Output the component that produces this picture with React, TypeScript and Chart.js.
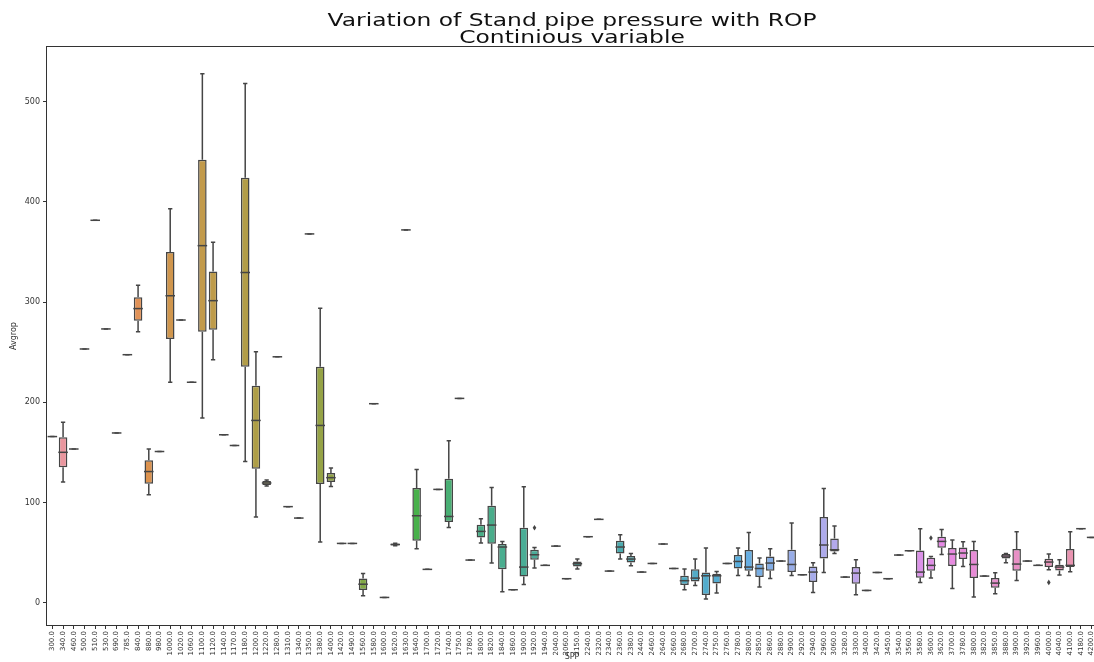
import React, { useEffect, useRef } from "react";
import { Chart, registerables } from "chart.js";

Chart.register(...registerables);

const sppLabels = [
  "300.0","340.0","460.0","500.0","510.0","530.0","690.0","785.0","840.0","880.0",
  "980.0","1000.0","1020.0","1060.0","1100.0","1120.0","1140.0","1170.0","1180.0","1200.0",
  "1220.0","1280.0","1310.0","1340.0","1350.0","1380.0","1400.0","1420.0","1490.0","1560.0",
  "1580.0","1600.0","1620.0","1630.0","1640.0","1700.0","1720.0","1740.0","1750.0","1780.0",
  "1800.0","1820.0","1840.0","1860.0","1900.0","1920.0","1940.0","2040.0","2060.0","2150.0",
  "2240.0","2320.0","2340.0","2360.0","2380.0","2440.0","2460.0","2640.0","2660.0","2680.0",
  "2700.0","2740.0","2750.0","2760.0","2780.0","2800.0","2850.0","2860.0","2880.0","2900.0",
  "2920.0","2940.0","2960.0","3060.0","3280.0","3300.0","3400.0","3420.0","3450.0","3540.0",
  "3560.0","3580.0","3600.0","3620.0","3700.0","3780.0","3800.0","3820.0","3850.0","3880.0",
  "3900.0","3920.0","3960.0","4000.0","4040.0","4100.0","4180.0","4200.0",
];

const whiskerLow = [
  165.8, 120.5, 153.4, 253.2, 381.6, 273.2, 169.4, 247.5, 270.3, 107.7,
  150.9, 220, 282.1, 220, 184.4, 242.5, 167.6, 156.9, 140.9, 85.6,
  116.5, 245.4, 95.9, 84.5, 368, 60.6, 115.9, 59.2, 59.2, 7.1,
  198.6, 5.3, 56.8, 372, 53.9, 33.3, 113.1, 75.2, 203.9, 42.6,
  59.6, 39.6, 11, 13, 18.3, 34.6, 37.3, 56.5, 24, 33.6,
  65.9, 83.2, 31.6, 43.6, 36.9, 30.6, 39.2, 58.6, 34.2, 13,
  17.3, 3.7, 9.7, 39.2, 27.2, 27.2, 15.7, 24.3, 41.6, 27.2,
  27.9, 10.3, 30.2, 49.2, 25.6, 8, 12.3, 30.2, 24, 47.6,
  51.9, 20.3, 24.6, 48.2, 14.3, 36.2, 5.7, 26.6, 9, 39.9,
  22.3, 41.6, 37.3, 32.9, 27.6, 30.9, 73.9, 65.2,
];

const q1 = [
  165.8, 135.2, 153.4, 253.2, 381.6, 273.2, 169.4, 247.5, 281.4, 118.8,
  150.9, 263.2, 282.1, 220, 270.3, 272.5, 167.6, 156.9, 235.4, 133.7,
  117.5, 245.4, 95.9, 84.5, 368, 118.4, 120.5, 59.2, 59.2, 12.8,
  198.6, 5.3, 57.2, 372, 61.9, 33.3, 113.1, 80.5, 203.9, 42.6,
  65.2, 58.9, 33.3, 13, 26.3, 42.9, 37.3, 56.5, 24, 36.2,
  65.9, 83.2, 31.6, 49.2, 40.2, 30.6, 39.2, 58.6, 34.2, 17.7,
  21.3, 7.7, 19.3, 39.2, 34.2, 31.9, 25.6, 31.9, 41.6, 30.6,
  27.9, 20.6, 44.2, 51.2, 25.6, 19, 12.3, 30.2, 24, 47.6,
  51.9, 24.9, 31.9, 54.9, 36.6, 43.6, 24.6, 26.6, 15, 44.2,
  31.9, 41.6, 37.3, 35.6, 32.2, 35.6, 73.9, 65.2,
];

const median = [
  165.8, 150.1, 153.4, 253.2, 381.6, 273.2, 169.4, 247.5, 293.5, 130.9,
  150.9, 306.3, 282.1, 220, 356.3, 301.4, 167.6, 156.9, 329.5, 181.9,
  119.5, 245.4, 95.9, 84.5, 368, 176.9, 124.8, 59.2, 59.2, 18.5,
  198.6, 5.3, 58.1, 372, 86.8, 33.3, 113.1, 86.1, 203.9, 42.6,
  71.2, 77.5, 55.6, 13, 35.6, 47.9, 37.3, 56.5, 24, 38.9,
  65.9, 83.2, 31.6, 55.6, 43.6, 30.6, 39.2, 58.6, 34.2, 22,
  24.6, 26.9, 26.9, 39.2, 41.2, 35.6, 34.2, 39.6, 41.6, 38.2,
  27.9, 30.6, 57.6, 52.9, 25.6, 29.6, 12.3, 30.2, 24, 47.6,
  51.9, 30.6, 37.3, 61.2, 48.6, 49.6, 38.2, 26.6, 19.6, 46.6,
  38.6, 41.6, 37.3, 40.6, 35.6, 37.3, 73.9, 65.2,
];

const q3 = [
  165.8, 165.1, 153.4, 253.2, 381.6, 273.2, 169.4, 247.5, 304.9, 142.3,
  150.9, 349.9, 282.1, 220, 441.9, 330.6, 167.6, 156.9, 424, 216.5,
  121.5, 245.4, 95.9, 84.5, 368, 235.4, 129.5, 59.2, 59.2, 24.3,
  198.6, 5.3, 59, 372, 114.5, 33.3, 113.1, 123.8, 203.9, 42.6,
  77.8, 96.8, 58.6, 13, 74.9, 52.9, 37.3, 56.5, 24, 41.2,
  65.9, 83.2, 31.6, 61.9, 46.6, 30.6, 39.2, 58.6, 34.2, 26.9,
  33.3, 30.2, 28.9, 39.2, 47.6, 52.6, 39.2, 46.2, 41.6, 52.9,
  27.9, 36.2, 85.5, 64.2, 25.6, 35.6, 12.3, 30.2, 24, 47.6,
  51.9, 52.2, 44.9, 65.9, 54.6, 55.2, 52.6, 26.6, 24.6, 48.6,
  53.6, 41.6, 37.3, 43.9, 37.9, 53.6, 73.9, 65.2,
];

const whiskerHigh = [
  165.8, 180.1, 153.4, 253.2, 381.6, 273.2, 169.4, 247.5, 316.7, 153.4,
  150.9, 393, 282.1, 220, 527.8, 359.8, 167.6, 156.9, 518.2, 250.4,
  122.5, 245.4, 95.9, 84.5, 368, 293.9, 134.4, 59.2, 59.2, 29.2,
  198.6, 5.3, 59.4, 372, 133, 33.3, 113.1, 161.7, 203.9, 42.6,
  83.8, 115.1, 61.2, 13, 115.8, 55.2, 37.3, 56.5, 24, 43.6,
  65.9, 83.2, 31.6, 67.9, 49.2, 30.6, 39.2, 58.6, 34.2, 33.6,
  43.6, 54.6, 31.2, 39.2, 54.6, 70.2, 44.6, 53.9, 41.6, 79.5,
  27.9, 39.9, 114.1, 76.5, 25.6, 42.9, 12.3, 30.2, 24, 47.6,
  51.9, 73.9, 46.2, 73.2, 62.6, 60.9, 61.2, 26.6, 29.9, 49.2,
  70.9, 41.6, 37.3, 48.6, 42.9, 70.9, 73.9, 65.2,
];

const outlierIndex = [45, 82, 93];
const outlierValue = [74.9, 64.6, 20.3];

const yTicks = [0, 100, 200, 300, 400, 500];
const titleLines = ["Variation of Stand pipe pressure with ROP", "Continious variable"];

// ---- seaborn-like husl palette ----
const M = [
  [3.2406, -1.5372, -0.4986],
  [-0.9689, 1.8758, 0.0415],
  [0.0557, -0.204, 1.057],
];
const refU = 0.19784;
const refV = 0.46834;

function maxChroma(L: number, H: number) {
  const hrad = (H / 360) * 2 * Math.PI;
  const sinH = Math.sin(hrad);
  const cosH = Math.cos(hrad);
  const sub1 = Math.pow(L + 16, 3) / 1560896.0;
  const sub2 = sub1 > 0.008856 ? sub1 : L / 903.3;
  let result = Infinity;
  for (const [m1, m2, m3] of M) {
    const top = (0.99915 * m1 + 1.05122 * m2 + 1.1446 * m3) * sub2;
    const rbottom = 0.8633 * m3 - 0.17266 * m2;
    const lbottom = 0.12949 * m3 - 0.38848 * m1;
    const bottom = (rbottom * sinH + lbottom * cosH) * sub2;
    for (const t of [0, 1]) {
      const C = (L * (top - 1.05122 * t)) / (bottom + 0.17266 * sinH * t);
      if (C > 0 && C < result) result = C;
    }
  }
  return result;
}

function fInv(t: number) {
  return Math.pow(t, 3) > 0.008856 ? Math.pow(t, 3) : (116 * t - 16) / 903.3;
}

function fromLinear(c: number) {
  return c <= 0.0031308 ? 12.92 * c : 1.055 * Math.pow(c, 1 / 2.4) - 0.055;
}

function huslToRgb(H: number, S: number, L: number): number[] {
  const C = (maxChroma(L, H) / 100) * S;
  const hr = (H / 360) * 2 * Math.PI;
  const U = Math.cos(hr) * C;
  const V = Math.sin(hr) * C;
  const Y = fInv((L + 16) / 116);
  const varU = U / (13 * L) + refU;
  const varV = V / (13 * L) + refV;
  const X = 0 - (9 * Y * varU) / ((varU - 4) * varV - varU * varV);
  const Z = (9 * Y - 15 * varV * Y - varV * X) / (3 * varV);
  return M.map((row) => {
    const lin = row[0] * X + row[1] * Y + row[2] * Z;
    return Math.min(1, Math.max(0, fromLinear(lin)));
  });
}

function rgbToHls(r: number, g: number, b: number) {
  const maxc = Math.max(r, g, b);
  const minc = Math.min(r, g, b);
  const l = (minc + maxc) / 2;
  if (minc === maxc) return [0, l, 0];
  const s = l <= 0.5 ? (maxc - minc) / (maxc + minc) : (maxc - minc) / (2 - maxc - minc);
  const rc = (maxc - r) / (maxc - minc);
  const gc = (maxc - g) / (maxc - minc);
  const bc = (maxc - b) / (maxc - minc);
  let h;
  if (r === maxc) h = bc - gc;
  else if (g === maxc) h = 2 + rc - bc;
  else h = 4 + gc - rc;
  h = ((h / 6) % 1 + 1) % 1;
  return [h, l, s];
}

function hlsV(m1: number, m2: number, hue: number) {
  hue = ((hue % 1) + 1) % 1;
  if (hue < 1 / 6) return m1 + (m2 - m1) * hue * 6;
  if (hue < 0.5) return m2;
  if (hue < 2 / 3) return m1 + (m2 - m1) * (2 / 3 - hue) * 6;
  return m1;
}

function hlsToRgb(h: number, l: number, s: number) {
  if (s === 0) return [l, l, l];
  const m2 = l <= 0.5 ? l * (1 + s) : l + s - l * s;
  const m1 = 2 * l - m2;
  return [hlsV(m1, m2, h + 1 / 3), hlsV(m1, m2, h), hlsV(m1, m2, h - 1 / 3)];
}

function makePalette(n: number) {
  const cols: number[][] = [];
  for (let i = 0; i < n; i++) {
    const h = (((i / n) + 0.01) % 1) * 359;
    const rgb = huslToRgb(h, 0.9 * 99, 0.7 * 99);
    const [hh, ll, ss] = rgbToHls(rgb[0], rgb[1], rgb[2]);
    cols.push(hlsToRgb(hh, ll, ss * 0.75));
  }
  return cols;
}

const toCss = (c: number[]) =>
  `rgb(${Math.round(c[0] * 255)}, ${Math.round(c[1] * 255)}, ${Math.round(c[2] * 255)})`;

export default function App() {
  const ref = useRef<HTMLCanvasElement | null>(null);

  useEffect(() => {
    if (!ref.current) return;
    const pal = makePalette(sppLabels.length);
    const colors = pal.map(toCss);
    const lum = Math.min(...pal.map((c) => rgbToHls(c[0], c[1], c[2])[1])) * 0.6;
    const g = Math.round(lum * 255);
    const gray = `rgb(${g}, ${g}, ${g})`;

    Chart.defaults.font.family = "'DejaVu Sans', sans-serif";

    const boxPlugin = {
      id: "boxWhiskers",
      afterDatasetsDraw(chart: any) {
        const ctx = chart.ctx;
        const ys = chart.scales.y;
        const meta = chart.getDatasetMeta(0);
        ctx.save();
        ctx.strokeStyle = gray;
        ctx.lineWidth = 1.5;
        for (let i = 0; i < sppLabels.length; i++) {
          const bar = meta.data[i];
          const x = bar.x;
          const hw = bar.width / 2;
          const cw = hw / 2;
          const yLo = ys.getPixelForValue(whiskerLow[i]);
          const yQ1 = ys.getPixelForValue(q1[i]);
          const yMed = ys.getPixelForValue(median[i]);
          const yQ3 = ys.getPixelForValue(q3[i]);
          const yHi = ys.getPixelForValue(whiskerHigh[i]);
          ctx.beginPath();
          ctx.moveTo(x, yQ1);
          ctx.lineTo(x, yLo);
          ctx.moveTo(x, yQ3);
          ctx.lineTo(x, yHi);
          ctx.moveTo(x - cw, yLo);
          ctx.lineTo(x + cw, yLo);
          ctx.moveTo(x - cw, yHi);
          ctx.lineTo(x + cw, yHi);
          ctx.stroke();
          ctx.beginPath();
          ctx.moveTo(x - hw - 0.5, yMed);
          ctx.lineTo(x + hw + 0.5, yMed);
          ctx.stroke();
        }
        ctx.fillStyle = gray;
        for (let k = 0; k < outlierIndex.length; k++) {
          const bar = meta.data[outlierIndex[k]];
          const x = bar.x;
          const y = ys.getPixelForValue(outlierValue[k]);
          ctx.beginPath();
          ctx.moveTo(x, y - 2.8);
          ctx.lineTo(x + 1.8, y);
          ctx.lineTo(x, y + 2.8);
          ctx.lineTo(x - 1.8, y);
          ctx.closePath();
          ctx.fill();
        }
        // axes frame (spines)
        const a = chart.chartArea;
        ctx.strokeStyle = "#333";
        ctx.lineWidth = 1;
        ctx.strokeRect(Math.round(a.left) - 0.5, Math.round(a.top) - 0.5, a.right - a.left, a.bottom - a.top + 1);
        ctx.restore();
      },
    };

    const titlePlugin = {
      id: "squashedTitle",
      afterDraw(chart: any) {
        const ctx = chart.ctx;
        const a = chart.chartArea;
        const cx = (a.left + a.right) / 2;
        const baselines = [25.7, 43];
        ctx.save();
        ctx.fillStyle = "#111";
        ctx.font = "23.4px 'DejaVu Sans'";
        ctx.textAlign = "center";
        ctx.textBaseline = "alphabetic";
        titleLines.forEach((t, k) => {
          ctx.save();
          ctx.translate(cx, baselines[k]);
          ctx.scale(1, 0.72);
          ctx.fillText(t, 0, 0);
          ctx.restore();
        });
        ctx.restore();
      },
    };

    const chart = new Chart(ref.current, {
      type: "bar",
      data: {
        labels: sppLabels,
        datasets: [
          {
            label: "Avgrop",
            data: q1.map((v, i) => [v, q3[i]]) as any,
            backgroundColor: colors,
            borderColor: gray,
            borderWidth: 1.5,
            borderSkipped: false,
            barPercentage: 0.8,
            categoryPercentage: 1.0,
          },
        ],
      },
      options: {
        animation: false,
        responsive: false,
        devicePixelRatio: 1,
        layout: { padding: { top: 47, right: 3, bottom: 0, left: 0 } },
        plugins: {
          legend: { display: false },
          title: { display: false },
          tooltip: { enabled: false },
        },
        scales: {
          x: {
            type: "category",
            offset: true,
            grid: {
              display: true,
              drawOnChartArea: false,
              drawTicks: true,
              tickLength: 4,
              offset: false,
              color: "#333",
            },
            border: { display: false },
            ticks: {
              autoSkip: false,
              minRotation: 90,
              maxRotation: 90,
              padding: 2,
              color: "#333",
              font: { size: 7 },
            },
            title: {
              display: true,
              text: "SPP",
              color: "#333",
              font: { size: 8 },
              padding: 0,
            },
            afterFit: (s: any) => {
              s.height = 37;
              s.paddingLeft = 0;
              s.paddingRight = 0;
            },
          },
          y: {
            type: "linear",
            min: -22.2,
            max: 554.5,
            afterBuildTicks: (s: any) => {
              s.ticks = yTicks.map((v) => ({ value: v }));
            },
            grid: {
              display: true,
              drawOnChartArea: false,
              drawTicks: true,
              tickLength: 4,
              color: "#333",
            },
            border: { display: false },
            ticks: {
              padding: 3,
              color: "#333",
              font: { size: 8 },
            },
            title: {
              display: true,
              text: "Avgrop",
              color: "#333",
              font: { size: 8 },
              padding: { top: 9, bottom: 0 },
            },
            afterFit: (s: any) => {
              s.width = 47;
            },
          },
        },
      },
      plugins: [boxPlugin, titlePlugin],
    });

    return () => chart.destroy();
  }, []);

  return (
    <div style={{ position: "fixed", left: 0, top: 0, width: 1100, height: 662, background: "#fff" }}>
      <canvas ref={ref} width={1100} height={662} style={{ display: "block" }} />
    </div>
  );
}
